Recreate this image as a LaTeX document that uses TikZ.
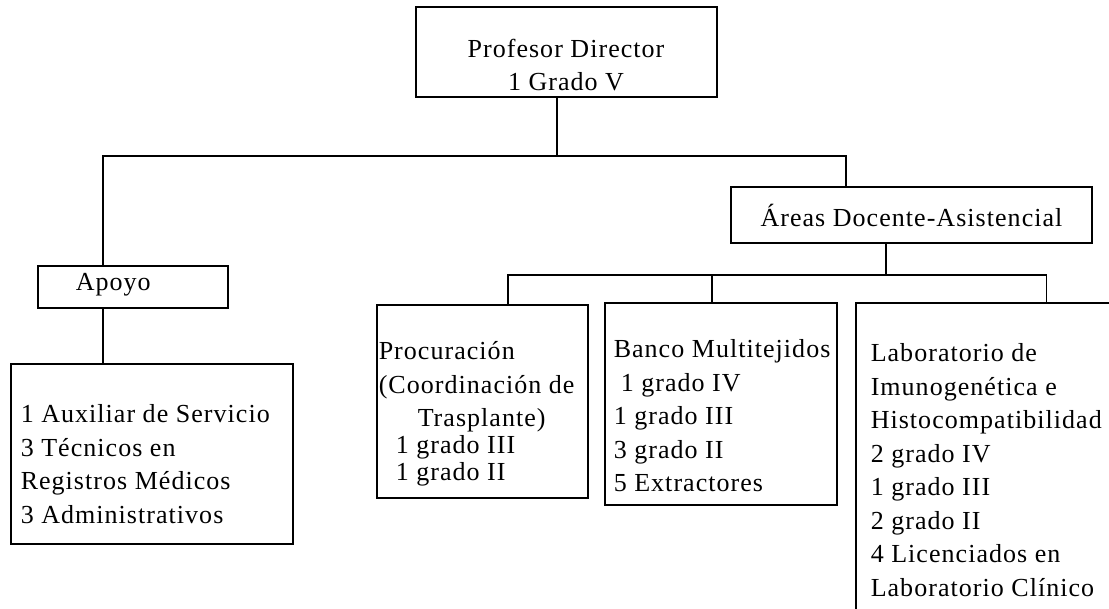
\documentclass[tikz,border=0pt]{standalone}
\usepackage{fontspec}
\setmainfont{Liberation Serif}[LetterSpace=4]

\begin{document}
\begin{tikzpicture}[x=1pt, y=-1pt, line width=1.5pt,
    font=\fontsize{26}{33.5}\selectfont,
    box/.style={draw, rectangle, inner sep=0pt},
    boxtext/.style={inner sep=0pt, anchor=north west, align=left}
    ]
    \useasboundingbox (0,0) rectangle (1109,609);
    \clip (0,0) rectangle (1109,609);

    \node [box, minimum width=301, minimum height=90] (director) at (566.5,52) {};
    \node [box, minimum width=361, minimum height=56] (areas) at (911.5,215) {\'Areas Docente-Asistencial};
    \node [box, minimum width=190, minimum height=42] (apoyo) at (133,287) {};
    \node [box, minimum width=282, minimum height=180] (apoyoStaff) at (152,454) {};
    \node [box, minimum width=211, minimum height=193] (procura) at (482.5,401.5) {};
    \node [box, minimum width=232, minimum height=202] (banco) at (721,404) {};
    \node [box, minimum width=274, minimum height=327] (lab) at (993,466.5) {};

    \node [boxtext, anchor=north, align=center] (directorText) at (566,38)
        {Profesor Director\\1 Grado V};
    \node [boxtext] (apoyoText) at (75,273) {Apoyo};
    \node [boxtext] (apoyoStaffText) at (20,404)
        {1 Auxiliar de Servicio\\3 T\'ecnicos en\\Registros M\'edicos\\3 Administrativos};
    \node [boxtext] (procuraText) at (378,341)
        {Procuraci\'on\\(Coordinaci\'on de\\\hspace*{39pt}Trasplante)\\[-6.5pt]
         \hspace*{17pt}1 grado III\\[-7pt]\hspace*{17pt}1 grado II};
    \node [boxtext] (bancoText) at (613,339)
        {Banco Multitejidos\\\hspace*{7pt}1 grado IV\\1 grado III\\3 grado II\\5 Extractores};
    \node [boxtext] (labText) at (870,343)
        {Laboratorio de\\Imunogen\'etica e\\Histocompatibilidad\\2 grado IV\\1 grado III\\
         2 grado II\\4 Licenciados en\\Laboratorio Cl\'inico};

    \coordinate (bus1) at (557,156);
    \coordinate (bus2) at (886,275);
    \draw (director.south -| bus1) -- (bus1);
    \draw ([xshift=-30]apoyo.north) |- (bus1) -| ([xshift=-65.5]areas.north);
    \draw ([xshift=-30]apoyo.south) -- ([xshift=-30]apoyo.south |- apoyoStaff.north);
    \draw ([xshift=-25.5]areas.south) -- (bus2);
    \draw ([xshift=25.5]procura.north) |- (bus2) -| ([xshift=191]lab.north west);
    \draw ([xshift=-9]banco.north) -- ([xshift=-9]banco.north |- bus2);
\end{tikzpicture}
\end{document}
